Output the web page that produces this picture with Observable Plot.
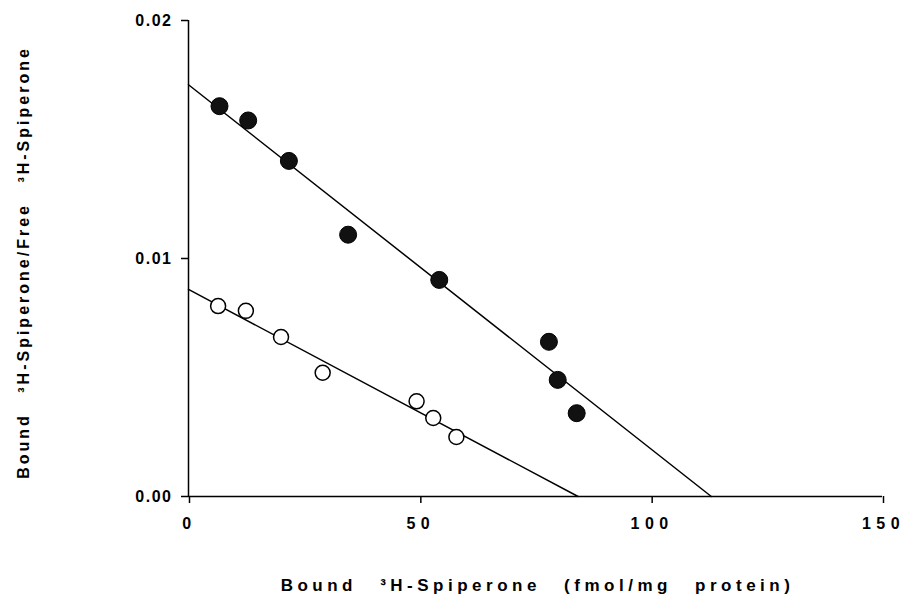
<!DOCTYPE html>
<html>
<head>
<meta charset="utf-8">
<script src="https://cdn.jsdelivr.net/npm/d3@7"></script>
<script src="https://cdn.jsdelivr.net/npm/@observablehq/plot@0.6"></script>
<style>
  body { margin: 0; background: #fff; }
  svg text { font-family: "Liberation Sans", Arial, Helvetica, sans-serif; fill: #000; font-weight: bold; }
  g[aria-label="x-axis tick label"] text { letter-spacing: 5.5px; }
  g[aria-label="y-axis tick label"] text { letter-spacing: 1.5px; }
</style>
</head>
<body>
<div id="chart"></div>
<script>
// Filled circles (upper series)
const filledBound = [6.7, 12.9, 21.7, 34.5, 54.2, 77.9, 79.8, 83.9];
const filledRatio = [0.0164, 0.0158, 0.0141, 0.0110, 0.0091, 0.0065, 0.0049, 0.0035];
// Open circles (lower series)
const openBound = [6.4, 12.4, 20.0, 29.0, 49.3, 52.9, 57.9];
const openRatio = [0.0080, 0.0078, 0.0067, 0.0052, 0.0040, 0.0033, 0.0025];
// Fitted Scatchard lines: [y-intercept at x=0, x-intercept at y=0]
const filledFitX = [0, 113];
const filledFitY = [0.0173, 0];
const openFitX = [0, 84.2];
const openFitY = [0.0087, 0];
// Ticks and labels
const xTicks = [0, 50, 100, 150];
const yTicks = [0, 0.01, 0.02];
const xLabel = "Bound ³H-Spiperone (fmol/mg protein)";
const yLabel = "Bound ³H-Spiperone/Free ³H-Spiperone";

const filled = filledBound.map((b, i) => ({x: b, y: filledRatio[i]}));
const open = openBound.map((b, i) => ({x: b, y: openRatio[i]}));
const filledFit = filledFitX.map((b, i) => ({x: b, y: filledFitY[i]}));
const openFit = openFitX.map((b, i) => ({x: b, y: openFitY[i]}));

const chart = Plot.plot({
  width: 905,
  height: 601,
  marginLeft: 188,
  marginRight: 23,
  marginTop: 20,
  marginBottom: 105,
  style: {background: "#fff", color: "#000", fontSize: "16px", fontFamily: "Liberation Sans, Arial, sans-serif"},
  x: {domain: [0, 150]},
  y: {domain: [0, 0.02]},
  marks: [
    Plot.axisX({ticks: xTicks, tickSize: 7, tickPadding: 14, tickFormat: d => String(d), label: null, fontSize: 16, dx: 1, strokeWidth: 1.5}),
    Plot.axisY({ticks: yTicks, tickSize: 7, tickPadding: 9, tickFormat: d3.format(".2f"), label: null, fontSize: 16, strokeWidth: 1.5}),
    Plot.ruleX([0], {strokeWidth: 1.5}),
    Plot.ruleY([0], {strokeWidth: 1.5}),
    Plot.line(filledFit, {x: "x", y: "y", stroke: "#000", strokeWidth: 1.5}),
    Plot.line(openFit, {x: "x", y: "y", stroke: "#000", strokeWidth: 1.5}),
    Plot.dot(filled, {x: "x", y: "y", r: 8.5, fill: "#111", stroke: "#000", strokeWidth: 1}),
    Plot.dot(open, {x: "x", y: "y", r: 7.5, fill: "#fff", stroke: "#000", strokeWidth: 1.5}),
    Plot.text([xLabel], {text: d => d, frameAnchor: "bottom", textAnchor: "middle", lineAnchor: "bottom", dy: 94, dx: 2, fontSize: 17}),
    Plot.text([yLabel], {text: d => d, frameAnchor: "left", textAnchor: "middle", rotate: -90, dx: -165, dy: 4, fontSize: 16})
  ]
});
// letter/word spacing of the two axis titles
d3.select(chart).selectAll("text").filter(function() { return this.textContent === xLabel; })
  .style("letter-spacing", "4.5px").style("word-spacing", "14px");
d3.select(chart).selectAll("text").filter(function() { return this.textContent === yLabel; })
  .style("letter-spacing", "3px").style("word-spacing", "13px");
document.getElementById("chart").appendChild(chart);
</script>
</body>
</html>
